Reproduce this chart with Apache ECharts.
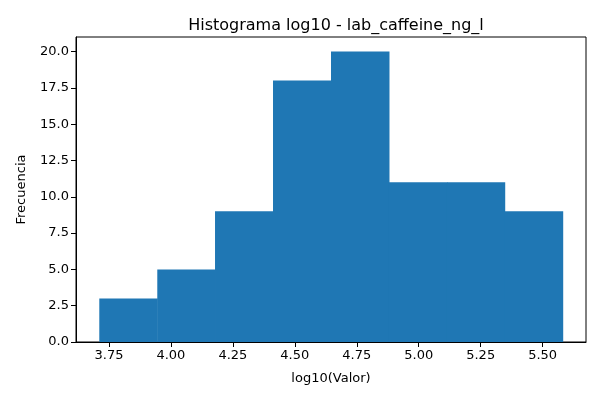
<!DOCTYPE html>
<html>
<head>
<meta charset="utf-8">
<script src="https://cdn.jsdelivr.net/npm/echarts@6/dist/echarts.min.js"></script>
<style>html,body{margin:0;padding:0;background:#fff}#c{width:600px;height:400px}</style>
</head>
<body>
<div id="c"></div>
<script>
const binEdges = [3.711, 3.945, 4.178, 4.412, 4.646, 4.880, 5.114, 5.347, 5.581];
const counts = [3, 5, 9, 18, 20, 11, 11, 9];
const xTicks = [3.75, 4.00, 4.25, 4.50, 4.75, 5.00, 5.25, 5.50];
const yTicks = [0, 2.5, 5, 7.5, 10, 12.5, 15, 17.5, 20];

const bars = counts.map((c, i) => [binEdges[i], binEdges[i + 1], c]);
const font = 'DejaVu Sans';
const chart = echarts.init(document.getElementById('c'), null, {renderer: 'canvas'});
chart.setOption({
  animation: false,
  title: {
    text: 'Histograma log10 - lab_caffeine_ng_l',
    left: 331, top: 13, textAlign: 'center',
    textStyle: {fontFamily: font, fontSize: 16, fontWeight: 'normal', color: '#000'}
  },
  grid: {left: 76, right: 14, top: 37, bottom: 58, show: true, borderColor: '#000', borderWidth: 1, backgroundColor: 'transparent'},
  xAxis: {
    type: 'value', min: 3.617, max: 5.675,
    name: 'log10(Valor)', nameLocation: 'middle', nameGap: 30,
    nameTextStyle: {fontFamily: font, fontSize: 13, color: '#000'},
    axisLine: {show: true, onZero: false, lineStyle: {color: '#000', width: 1}},
    axisTick: {show: true, inside: false, length: 5, customValues: xTicks, lineStyle: {color: '#000'}},
    axisLabel: {customValues: xTicks, fontFamily: font, fontSize: 13, color: '#000', margin: 7,
      formatter: v => v.toFixed(2)},
    splitLine: {show: false}
  },
  yAxis: {
    type: 'value', min: 0, max: 21,
    name: 'Frecuencia', nameLocation: 'middle', nameGap: 48, nameRotate: 90,
    nameTextStyle: {fontFamily: font, fontSize: 13, color: '#000'},
    axisLine: {show: true, lineStyle: {color: '#000', width: 1}},
    axisTick: {show: true, inside: false, length: 5, customValues: yTicks, lineStyle: {color: '#000'}},
    axisLabel: {customValues: yTicks, fontFamily: font, fontSize: 13, color: '#000', margin: 7,
      formatter: v => v.toFixed(1)},
    splitLine: {show: false}
  },
  series: [{
    type: 'custom',
    data: bars,
    encode: {x: [0, 1], y: 2},
    renderItem: function (params, api) {
      const p0 = api.coord([api.value(0), 0]);
      const p1 = api.coord([api.value(1), api.value(2)]);
      return {
        type: 'rect',
        shape: {x: p0[0], y: p1[1], width: p1[0] - p0[0] + 0.5, height: p0[1] - p1[1]},
        style: {fill: '#1f77b4'}
      };
    }
  }]
});
</script>
</body>
</html>
